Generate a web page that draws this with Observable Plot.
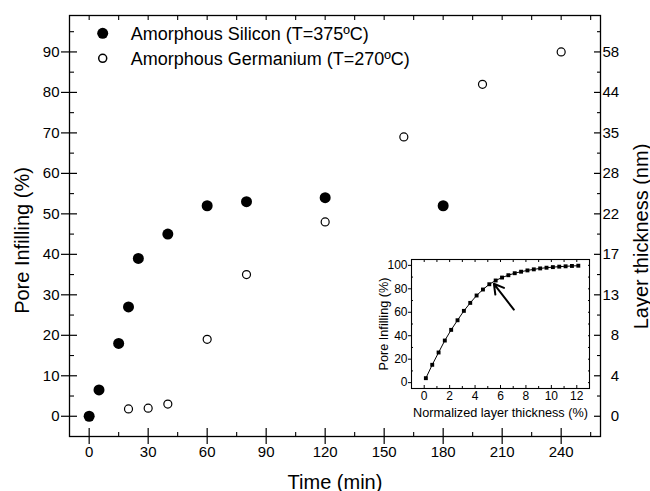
<!DOCTYPE html>
<html><head><meta charset="utf-8">
<script src="https://cdn.jsdelivr.net/npm/d3@7"></script>
<script src="https://cdn.jsdelivr.net/npm/@observablehq/plot@0.6"></script>
<style>
body{margin:0;background:#fff;}
#wrap{position:relative;width:650px;height:491px;font-family:"Liberation Sans",Arial,sans-serif;}
#wrap svg{position:absolute;}
</style></head><body><div id="wrap"></div>
<script>
// ---- main chart data ----
const seriesNames = ["Amorphous Silicon (T=375ºC)", "Amorphous Germanium (T=270ºC)"];
const siliconTime = [0, 5, 15, 20, 25, 40, 60, 80, 120, 180];
const siliconInfill = [0, 6.5, 18, 27, 39, 45, 52, 53, 54, 52];
const germaniumTime = [20, 30, 40, 60, 80, 120, 160, 200, 240];
const germaniumInfill = [1.8, 2, 3, 19, 35, 48, 69, 82, 90];
const timeTicks = [0, 30, 60, 90, 120, 150, 180, 210, 240];
const timeMinor = [15, 45, 75, 105, 135, 165, 195, 225, 255];
const timeTop = [0, 15, 30, 45, 60, 75, 90, 105, 120, 135, 150, 165, 180, 195, 210, 225, 240, 255];
const infillTicks = [0, 10, 20, 30, 40, 50, 60, 70, 80, 90];
const infillMinor = [5, 15, 25, 35, 45, 55, 65, 75, 85, 95];
const layerTickLabels = [0, 4, 8, 13, 17, 22, 28, 35, 44, 58];
// ---- inset data ----
const normThickness = [0.13, 0.63, 1.13, 1.62, 2.12, 2.62, 3.12, 3.62, 4.12, 4.62, 5.12, 5.62, 6.12, 6.62, 7.12, 7.62, 8.12, 8.62, 9.12, 9.62, 10.12, 10.62, 11.12, 11.62, 12.12];
const normInfill = [3.8, 15.2, 25.7, 35.9, 45.0, 53.2, 61.2, 68.0, 74.3, 79.4, 83.9, 87.1, 89.6, 91.6, 93.3, 94.6, 95.7, 96.6, 97.4, 98.0, 98.5, 98.9, 99.2, 99.5, 99.7];
const arrowFrom = [7.05, 62.3];
const arrowTo = [5.48, 84.3];
const insetXTicks = [0, 2, 4, 6, 8, 10, 12];
const insetXMinor = [1, 3, 5, 7, 9, 11];
const insetXAll = [0, 1, 2, 3, 4, 5, 6, 7, 8, 9, 10, 11, 12];
const insetYTicks = [0, 20, 40, 60, 80, 100];
const insetYMinor = [10, 30, 50, 70, 90];
const insetYAll = [0, 10, 20, 30, 40, 50, 60, 70, 80, 90, 100];

const font = '"Liberation Sans", Arial, sans-serif';
const silicon = siliconTime.map((t, i) => ({t, v: siliconInfill[i]}));
const germanium = germaniumTime.map((t, i) => ({t, v: germaniumInfill[i]}));
const curve = normThickness.map((x, i) => ({x, y: normInfill[i]}));
const blank = () => "";
const figSpace = "\u2007";

const main = Plot.plot({
  width: 650, height: 491,
  marginLeft: 69, marginRight: 50, marginTop: 15, marginBottom: 55,
  style: {fontFamily: font, color: "#000", background: "white", overflow: "visible"},
  x: {domain: [-10, 260], label: null},
  y: {domain: [-5, 99], label: null},
  marks: [
    Plot.frame({stroke: "black", strokeWidth: 1.3}),
    Plot.axisY(infillTicks, {anchor: "left", tickSize: 16, insetLeft: 8, tickPadding: 2, fontSize: 15, strokeWidth: 1.2, label: null}),
    Plot.axisY(infillMinor, {anchor: "left", tickSize: 5, insetLeft: 5, tickFormat: blank, strokeWidth: 1.1, label: null}),
    Plot.axisY(infillTicks, {anchor: "right", tickSize: 7, insetRight: 7, tickPadding: 2, fontSize: 15, strokeWidth: 1.2, textAnchor: "start",
      tickFormat: d => { const s = String(layerTickLabels[infillTicks.indexOf(d)]); return s.length < 2 ? figSpace + s : s; }, label: null}),
    Plot.axisY(infillMinor, {anchor: "right", tickSize: 4, insetRight: 4, tickFormat: blank, strokeWidth: 1.1, label: null}),
    Plot.axisX(timeTicks, {anchor: "bottom", tickSize: 16, insetBottom: 8, tickPadding: 2, fontSize: 15, strokeWidth: 1.2, label: null}),
    Plot.axisX(timeMinor, {anchor: "bottom", tickSize: 4, insetBottom: 4, tickFormat: blank, strokeWidth: 1.1, label: null}),
    Plot.axisX(timeTop, {anchor: "top", tickSize: 4, insetTop: 4, tickFormat: blank, strokeWidth: 1.1, label: null}),
    Plot.dot(silicon, {x: "t", y: "v", r: 5.5, fill: "black", stroke: "none"}),
    Plot.dot(germanium, {x: "t", y: "v", r: 4, fill: "white", stroke: "black", strokeWidth: 1.2}),
    Plot.text(["Pore Infilling (%)"], {text: d => d, frameAnchor: "left", textAnchor: "middle", rotate: -90, dx: -41, dy: 14.5, lineAnchor: "bottom", fontSize: 20}),
    Plot.text(["Layer thickness (nm)"], {text: d => d, frameAnchor: "right", textAnchor: "middle", rotate: -90, dx: 47, dy: 10.5, lineAnchor: "bottom", fontSize: 20}),
    Plot.text(["Time (min)"], {text: d => d, frameAnchor: "bottom", textAnchor: "middle", dy: 52, lineAnchor: "bottom", fontSize: 20})
  ]
});
main.style.left = "0px"; main.style.top = "0px";
document.getElementById("wrap").appendChild(main);

const inset = Plot.plot({
  width: 225, height: 172,
  marginLeft: 41, marginRight: 6, marginTop: 9, marginBottom: 34,
  style: {fontFamily: font, color: "#000", background: "transparent", overflow: "visible"},
  x: {domain: [-1, 13], label: null},
  y: {domain: [-5, 105], label: null},
  marks: [
    Plot.frame({stroke: "black", strokeWidth: 1.1}),
    Plot.axisY(insetYTicks, {anchor: "left", tickSize: 3, tickPadding: 1, fontSize: 12, label: null}),
    Plot.axisY(insetYMinor, {anchor: "left", tickSize: 2, insetLeft: 2, tickFormat: blank, label: null}),
    Plot.axisY(insetYAll, {anchor: "right", tickSize: 2, insetRight: 2, tickFormat: blank, label: null}),
    Plot.axisX(insetXTicks, {anchor: "bottom", tickSize: 3, insetBottom: 3, tickPadding: 3, fontSize: 12, label: null}),
    Plot.axisX(insetXMinor, {anchor: "bottom", tickSize: 2, insetBottom: 2, tickFormat: blank, label: null}),
    Plot.axisX(insetXAll, {anchor: "top", tickSize: 2, insetTop: 2, tickFormat: blank, label: null}),
    Plot.line(curve, {x: "x", y: "y", stroke: "black", strokeWidth: 1}),
    Plot.dot(curve, {x: "x", y: "y", symbol: "square", r: 2.2, fill: "black", stroke: "none"}),
    Plot.arrow([{from: arrowFrom, to: arrowTo}], {x1: d => d.from[0], y1: d => d.from[1], x2: d => d.to[0], y2: d => d.to[1], stroke: "black", strokeWidth: 2, headLength: 9}),
    Plot.text(["Normalized layer thickness (%)"], {text: d => d, frameAnchor: "bottom", textAnchor: "middle", dy: 28, lineAnchor: "bottom", fontSize: 12.7}),
    Plot.text(["Pore Infilling (%)"], {text: d => d, frameAnchor: "left", textAnchor: "middle", rotate: -90, dx: -23.5, lineAnchor: "bottom", fontSize: 12.7})
  ]
});
inset.style.left = "370px"; inset.style.top = "250px";
document.getElementById("wrap").appendChild(inset);

// legend
const leg = d3.select("#wrap").append("svg")
  .attr("width", 450).attr("height", 80)
  .style("left", "0px").style("top", "0px");
const items = leg.selectAll("g").data(seriesNames).join("g")
  .attr("transform", (d, i) => `translate(0,${i * 25})`);
items.append("circle")
  .attr("cx", 102.7).attr("cy", 33.3)
  .attr("r", (d, i) => i === 0 ? 5.5 : 4)
  .attr("fill", (d, i) => i === 0 ? "black" : "white")
  .attr("stroke", "black").attr("stroke-width", (d, i) => i === 0 ? 0 : 1.5);
items.append("text")
  .attr("x", 130.7).attr("y", 39.7)
  .attr("font-size", 18).attr("font-family", font).attr("fill", "black")
  .text(d => d);
</script>
</body></html>
